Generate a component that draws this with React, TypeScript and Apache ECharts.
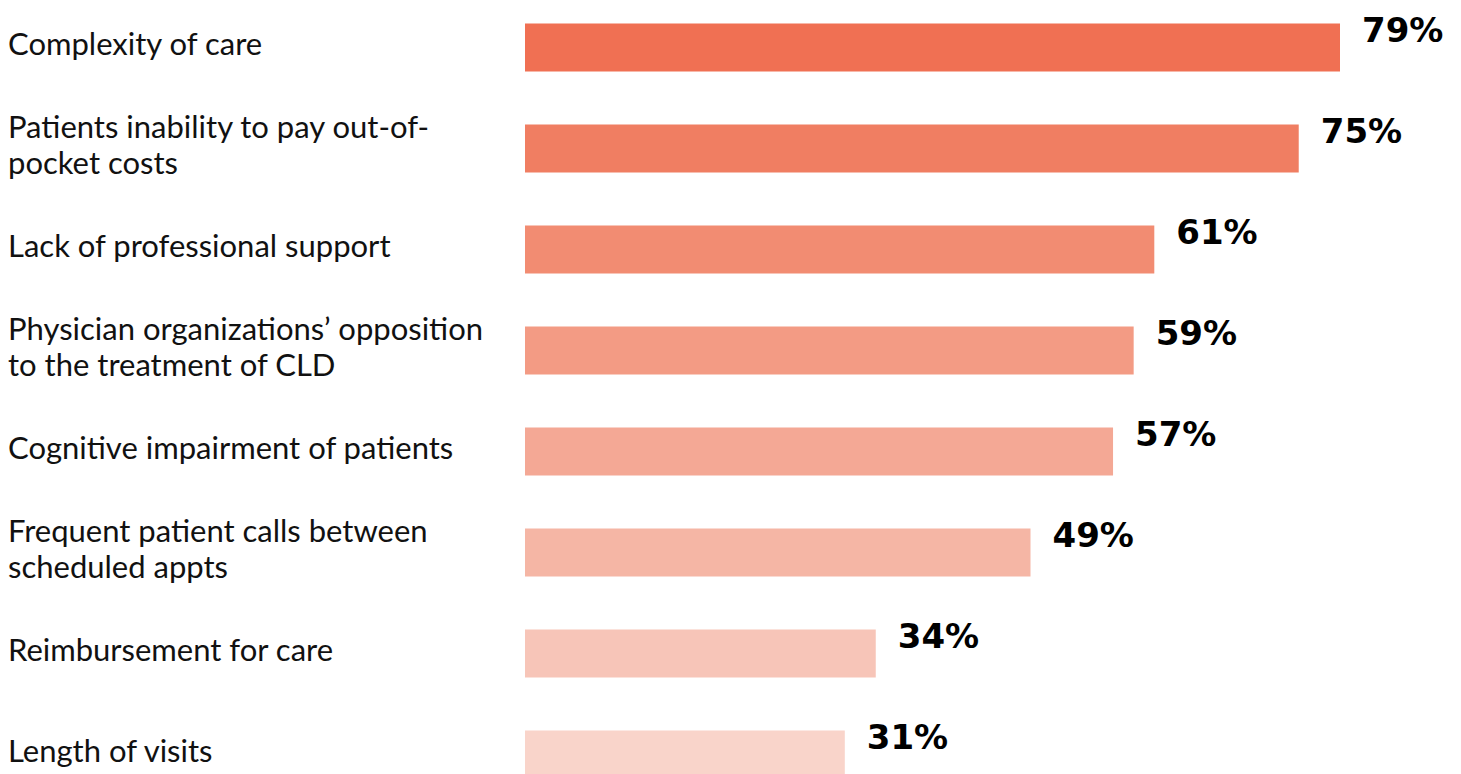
import React, { useEffect, useRef } from "react";
import * as echarts from "echarts";

const categories = [
  "Complexity of care",
  "Patients inability to pay out-of-\npocket costs",
  "Lack of professional support",
  "Physician organizations’ opposition\nto the treatment of CLD",
  "Cognitive impairment of patients",
  "Frequent patient calls between\nscheduled appts",
  "Reimbursement for care",
  "Length of visits",
];
const values = [79, 75, 61, 59, 57, 49, 34, 31];
const barColors = [
  "#F07053",
  "#F07E62",
  "#F28C72",
  "#F39B84",
  "#F4A895",
  "#F5B6A5",
  "#F7C5B8",
  "#F9D4CA",
];

export default function App() {
  const ref = useRef<HTMLDivElement>(null);
  useEffect(() => {
    if (!ref.current) return;
    const chart = echarts.init(ref.current, undefined, { renderer: "svg" });
    chart.setOption({
      animation: false,
      backgroundColor: "#ffffff",
      grid: { left: 525, top: 0, width: 815, bottom: 0, containLabel: false },
      xAxis: {
        type: "value",
        min: 0,
        max: 79,
        show: false,
      },
      yAxis: {
        type: "category",
        data: categories,
        inverse: true,
        axisLine: { show: false },
        axisTick: { show: false },
        axisLabel: {
          align: "left",
          margin: 517,
          formatter: (v: string) => `{a|${v}}\n{s| }`,
          rich: {
            a: {
              fontFamily: "Lato",
              fontSize: 31,
              lineHeight: 36,
              color: "#111111",
            },
            s: { fontSize: 1, lineHeight: 10 },
          },
        },
      },
      series: [
        {
          type: "bar",
          data: values.map((v, i) => ({ value: v, itemStyle: { color: barColors[i] } })),
          barWidth: 48,
          label: {
            show: true,
            position: "right",
            distance: 22,
            offset: [0, -18],
            formatter: "{c}%",
            fontFamily: "DejaVu Sans",
            fontWeight: 900,
            fontSize: 34,
            color: "#000000",
          },
        },
      ],
    });
    return () => chart.dispose();
  }, []);
  return (
    <div
      ref={ref}
      style={{ position: "fixed", left: 0, top: -3, width: 1461, height: 808 }}
    />
  );
}
